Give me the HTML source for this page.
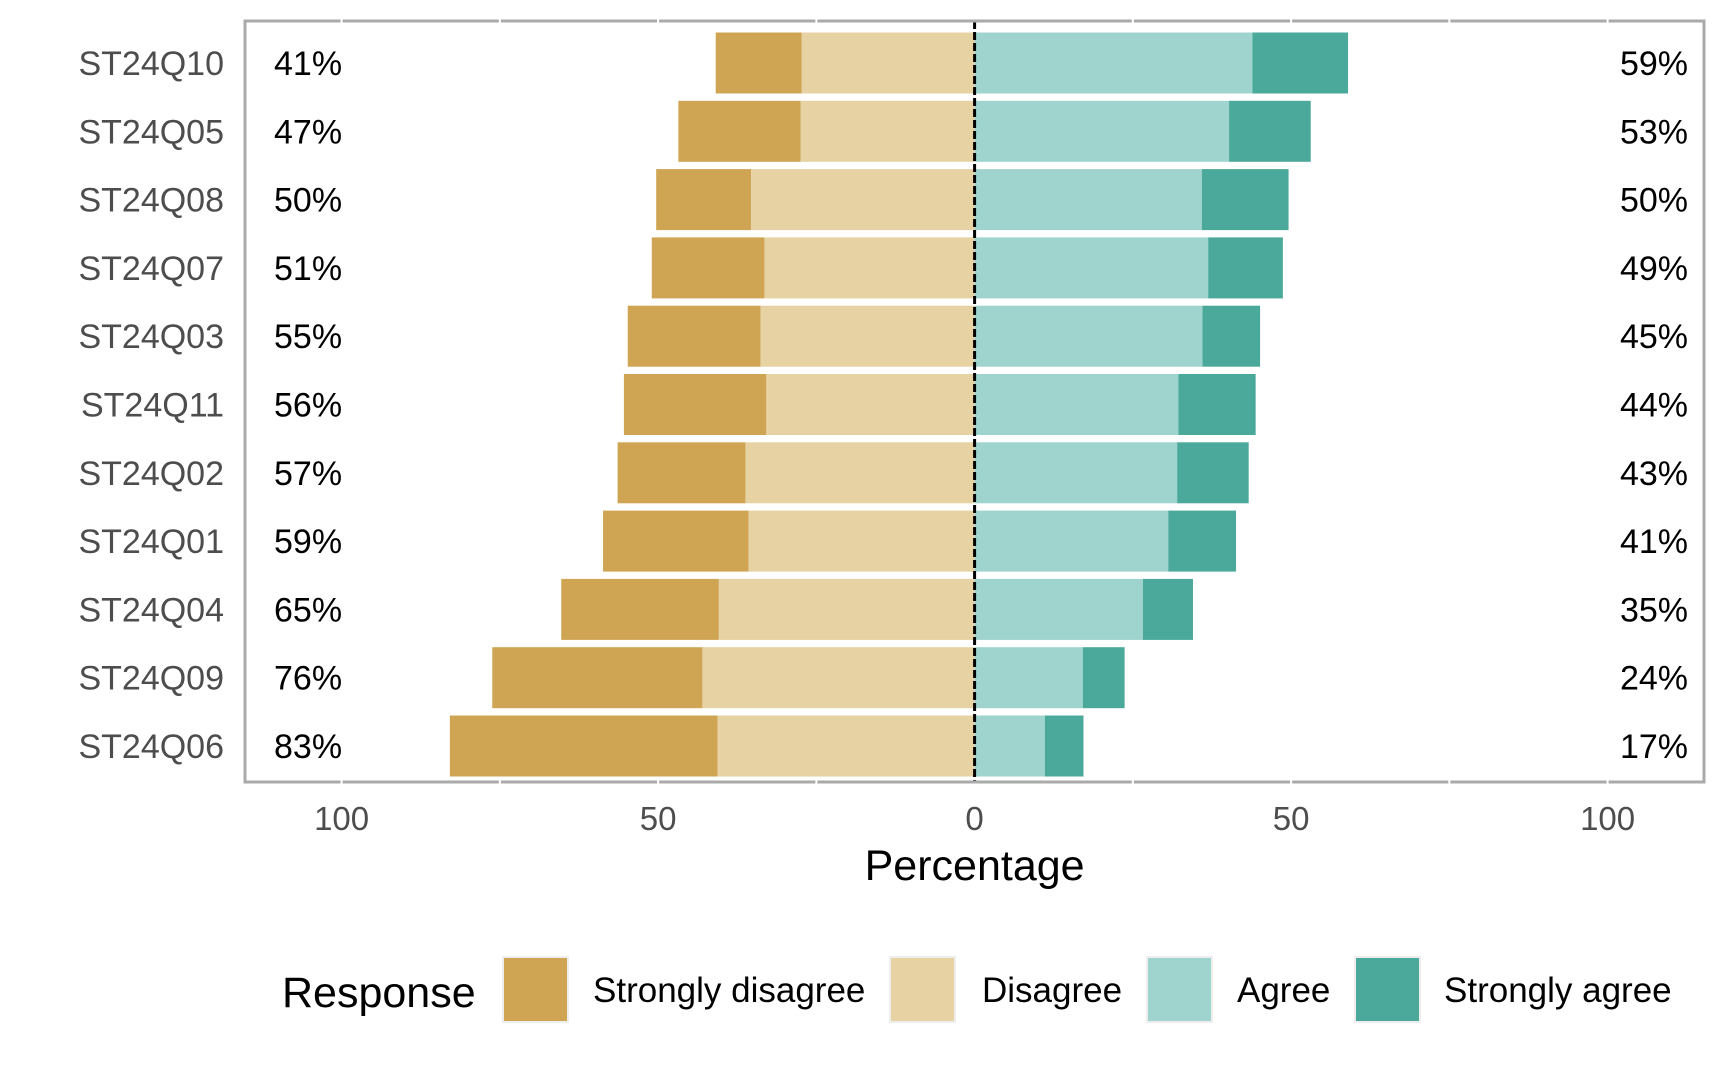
<!DOCTYPE html>
<html><head><meta charset="utf-8"><style>
html,body{margin:0;padding:0;background:#fff}
svg{display:block;font-family:"Liberation Sans",Arial,sans-serif}
</style></head><body>
<svg id="chart" width="1728" height="1067" viewBox="0 0 1728 1067"></svg>
<script>
const categories=["ST24Q10","ST24Q05","ST24Q08","ST24Q07","ST24Q03","ST24Q11","ST24Q02","ST24Q01","ST24Q04","ST24Q09","ST24Q06"];
const stronglyDisagree=[13.6,19.3,15.0,17.8,21.0,22.5,20.2,23.0,24.9,33.2,42.3];
const disagree=[27.3,27.5,35.3,33.2,33.8,32.9,36.2,35.7,40.4,43.0,40.6];
const agree=[43.9,40.2,35.9,36.9,36.0,32.2,32.0,30.6,26.6,17.1,11.1];
const stronglyAgree=[15.1,12.9,13.7,11.8,9.1,12.2,11.3,10.7,7.9,6.6,6.1];
const leftLabels=["41%","47%","50%","51%","55%","56%","57%","59%","65%","76%","83%"];
const rightLabels=["59%","53%","50%","49%","45%","44%","43%","41%","35%","24%","17%"];
const xTicks=[-100,-50,0,50,100];
const gridTicks=[-100,-75,-50,-25,0,25,50,75,100];

const svg=document.getElementById('chart');
const NS='http://www.w3.org/2000/svg';
const P={l:245,r:1704,t:21,b:782};
const x=v=>974.6+v*6.33;
const rowStep=68.3, y0=63, bh=61;
const y=i=>y0+i*rowStep;
function mk(tag,attrs,parent){const e=document.createElementNS(NS,tag);for(const k in attrs)e.setAttribute(k,attrs[k]);(parent||svg).appendChild(e);return e;}
const colors={sd:"#cfa553",d:"#e6d2a2",a:"#9fd3cd",sa:"#4ba99c"};

const bars=mk('g',{});


categories.forEach((c,i)=>{
  const yc=y(i)-bh/2;
  const d=disagree[i], sd=stronglyDisagree[i], a=agree[i], sa=stronglyAgree[i];
  let r=mk('rect',{x:x(-d-sd),y:yc,width:x(-d)-x(-d-sd),height:bh,fill:colors.sd},bars);
  
  
  r=mk('rect',{x:x(-d),y:yc,width:x(0)-x(-d),height:bh,fill:colors.d},bars);
  
  
  r=mk('rect',{x:x(0),y:yc,width:x(a)-x(0),height:bh,fill:colors.a},bars);
  
  
  r=mk('rect',{x:x(a),y:yc,width:x(a+sa)-x(a),height:bh,fill:colors.sa},bars);
  
  
  let t=mk('text',{x:224,y:y(i)+12,'text-anchor':'end','font-size':34,fill:'#4d4d4d'});
  t.textContent=c;
  
  
  t=mk('text',{x:274,y:y(i)+12,'font-size':34,fill:'#000'});
  t.textContent=leftLabels[i];
  
  
  t=mk('text',{x:1688,y:y(i)+12,'text-anchor':'end','font-size':34,fill:'#000'});
  t.textContent=rightLabels[i];
  
  
});
const zl=mk('line',{x1:x(0),x2:x(0),y1:P.t,y2:P.b,stroke:'#000','stroke-width':3,'stroke-dasharray':'8,3'});


const border=mk('rect',{x:P.l,y:P.t,width:P.r-P.l,height:P.b-P.t,fill:'none',stroke:'#aaaaaa','stroke-width':3});


gridTicks.forEach(v=>{
  if(v===0)return;
  let g=mk('line',{x1:x(v),x2:x(v),y1:P.t-3,y2:P.t+3,stroke:'#fff','stroke-width':2});
  
  
  g=mk('line',{x1:x(v),x2:x(v),y1:P.b-3,y2:P.b+3,stroke:'#fff','stroke-width':2});
  
  
});
xTicks.forEach(v=>{
  const t=mk('text',{x:x(v),y:830,'text-anchor':'middle','font-size':33,fill:'#4d4d4d'});
  t.textContent=Math.abs(v);
  
  
});
const xt=mk('text',{x:x(0),y:880,'text-anchor':'middle','font-size':43,fill:'#000'});
xt.textContent='Percentage';



const lg=mk('g',{});


const lt=mk('text',{x:282,y:1007,'font-size':43,fill:'#000'},lg);
lt.textContent='Response';


const legendNames=["Strongly disagree","Disagree","Agree","Strongly agree"];
const legendCols=[colors.sd,colors.d,colors.a,colors.sa];
const keyX=[503,890,1147,1355];
const labX=[593,982,1237,1444];
legendNames.forEach((n,i)=>{
  const k=mk('rect',{x:keyX[i],y:957,width:65,height:65,fill:legendCols[i],stroke:'#eeeeee','stroke-width':2},lg);
  
  
  const t=mk('text',{x:labX[i],y:1002,'font-size':35,fill:'#000'},lg);
  t.textContent=n;
  
  
});
</script>
</body></html>
